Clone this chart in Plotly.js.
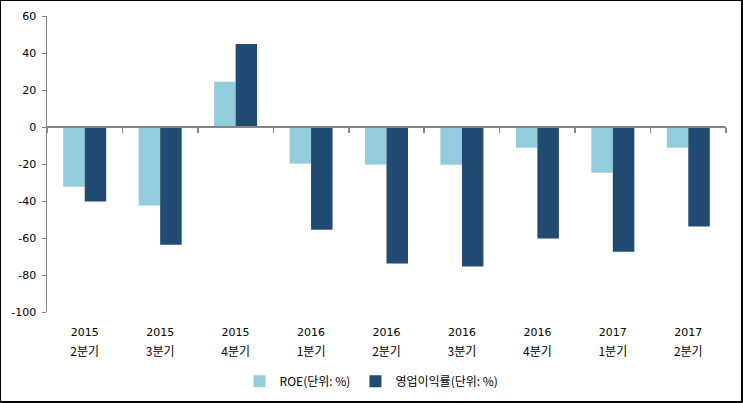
<!DOCTYPE html>
<html><head><meta charset="utf-8">
<script src="https://cdn.plot.ly/plotly-3.0.1.min.js"></script>
<style>
html,body{margin:0;padding:0;background:#fff;}
#wrap{position:relative;width:743px;height:403px;}
#chart{width:743px;height:403px;}
#frame{position:absolute;left:0;top:0;width:743px;height:403px;box-sizing:border-box;border-style:solid;border-color:#000;border-width:1px 2px 2px 1px;pointer-events:none;}
</style></head>
<body>
<div id="wrap"><div id="chart"></div><div id="frame"></div></div>
<script>
var categories = ["2015 2Q","2015 3Q","2015 4Q","2016 1Q","2016 2Q","2016 3Q","2016 4Q","2017 1Q","2017 2Q"];
var years = ["2015","2015","2015","2016","2016","2016","2016","2017","2017"];
var quarters = ["2분기","3분기","4분기","1분기","2분기","3분기","4분기","1분기","2분기"];
var roe = [-32.3, -42.4, 24.5, -19.8, -20.3, -20.4, -11.2, -24.7, -11.2];
var opMargin = [-40.3, -63.6, 44.9, -55.5, -73.8, -75.4, -60.3, -67.4, -53.8];
var roeName = "ROE(단위: %)";
var opName = "영업이익률(단위: %)";
var yTickVals = [60,40,20,0,-20,-40,-60,-80,-100];
var yTickText = ["60","40","20","0","-20","-40","-60","-80","-100"];

var FONT = "DejaVu Sans, Noto Sans CJK KR, sans-serif";
var KFONT = "Noto Sans CJK KR, DejaVu Sans, sans-serif";
var blank = categories.map(function(){return null;});

var data = [
  {type:"bar", name:roeName, x:categories, y:roe, marker:{color:"#93CDDD"}, xaxis:"x", yaxis:"y"},
  {type:"bar", name:opName, x:categories, y:opMargin, marker:{color:"#224B74"}, xaxis:"x", yaxis:"y"},
  {type:"scatter", mode:"markers", x:categories, y:blank, xaxis:"x2", yaxis:"y", showlegend:false, hoverinfo:"skip"},
  {type:"scatter", mode:"markers", x:categories, y:blank, xaxis:"x3", yaxis:"y", showlegend:false, hoverinfo:"skip"}
];

var layout = {
  width:743, height:403,
  margin:{l:47, r:17, t:16, b:91, autoexpand:false},
  paper_bgcolor:"#fff", plot_bgcolor:"#fff",
  showlegend:true,
  bargap:0.43, bargroupgap:0,
  barmode:"group",
  font:{family:FONT, size:11, color:"#000"},
  xaxis:{type:"category", range:[-0.5,8.5], anchor:"free", position:0.625,
    showline:true, linecolor:"#868686", linewidth:2, ticks:"outside", tickson:"boundaries",
    ticklen:5, tickcolor:"#868686", tickwidth:1.5, showticklabels:false, showgrid:false, zeroline:false, fixedrange:true},
  xaxis2:{type:"category", overlaying:"x", matches:"x", anchor:"y", side:"bottom", showline:false, ticks:"",
    tickmode:"array", tickvals:categories, ticktext:years, ticklabelstandoff:12,
    tickfont:{family:FONT, size:11, color:"#000"}, showgrid:false, zeroline:false},
  xaxis3:{type:"category", overlaying:"x", matches:"x", anchor:"y", side:"bottom", showline:false, ticks:"",
    tickmode:"array", tickvals:categories, ticktext:quarters, ticklabelstandoff:31,
    tickfont:{family:KFONT, size:12, color:"#000"}, showgrid:false, zeroline:false},
  yaxis:{range:[-100,60], tickmode:"array", tickvals:yTickVals, ticktext:yTickText,
    showline:true, linecolor:"#868686", linewidth:1.5, ticks:"outside", ticklen:4, tickcolor:"#868686",
    showgrid:false, zeroline:false, ticklabelstandoff:3, tickfont:{family:FONT, size:11, color:"#000"}},
  legend:{orientation:"h", x:0.478, xanchor:"center", y:-0.234, yanchor:"middle",
    font:{family:KFONT, size:12, color:"#000"}, itemwidth:30, tracegroupgap:0, traceorder:"normal"}
};

Plotly.newPlot("chart", data, layout, {staticPlot:true, displayModeBar:false});
</script>
</body></html>
